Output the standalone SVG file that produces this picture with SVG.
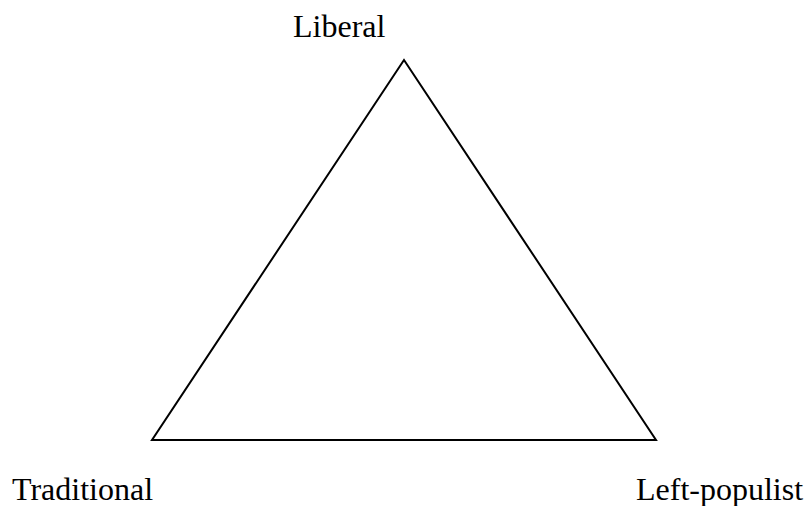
<svg xmlns="http://www.w3.org/2000/svg" width="806" height="506" viewBox="0 0 806 506">
<style>
.lbl{font-family:"Liberation Serif","Times New Roman",serif;font-size:32px;fill:#000}
.edge{fill:none;stroke:#000;stroke-width:2;stroke-linejoin:miter}
</style>
<rect width="806" height="506" fill="#fff"/>
<g id="connectors">
<polygon class="edge" points="404,60 152,440 656,440"/>
</g>
<g id="liberal"><text class="lbl" x="293" y="37">Liberal</text></g>
<g id="traditional"><text class="lbl" x="12" y="500">Traditional</text></g>
<g id="left-populist"><text class="lbl" x="636" y="500">Left-populist</text></g>
</svg>
